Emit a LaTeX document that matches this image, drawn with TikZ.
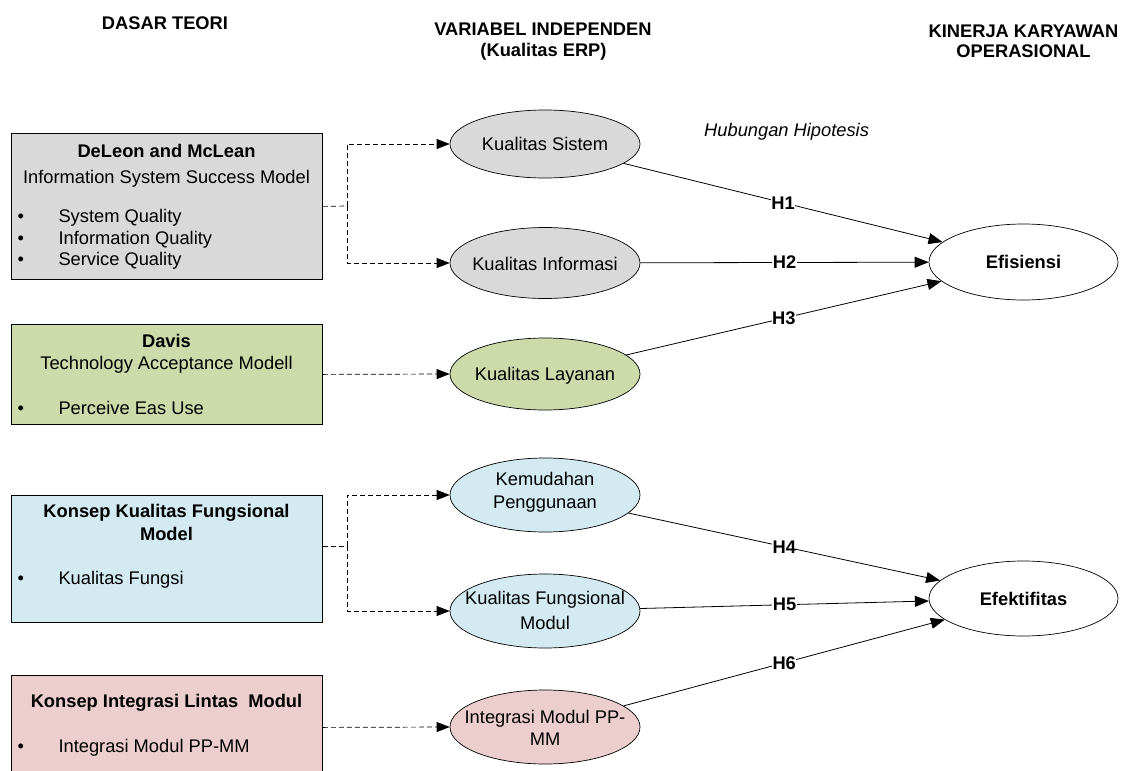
\documentclass[tikz,border=0pt]{standalone}
\usepackage{fontspec}
\setmainfont{Liberation Sans}
\usetikzlibrary{shapes.geometric,arrows.meta}
\definecolor{cgray}{HTML}{D9D9D9}
\definecolor{cgreen}{HTML}{CDDBAB}
\definecolor{cblue}{HTML}{D2EAF0}
\definecolor{cpink}{HTML}{ECCECE}
\newcommand{\myfs}{\fontsize{18.3pt}{22pt}\selectfont}
\begin{document}
\begin{tikzpicture}[x=1pt,y=-1pt,font=\myfs,
  box/.style={draw=black, line width=0.8pt, rectangle, anchor=north west, inner sep=0pt, minimum width=311pt},
  ell/.style={ellipse, draw=black, line width=0.7pt, inner sep=0pt},
  txt/.style={anchor=base, inner sep=0pt},
  ltxt/.style={anchor=base west, inner sep=0pt},
  btxt/.style={anchor=base, inner sep=0pt, font=\myfs\bfseries},
  bul/.style={anchor=base, inner sep=0pt},
  dashline/.style={line width=0.7pt, dash pattern=on 5pt off 3pt},
  dasharrow/.style={dashline, -{Triangle[length=13pt,width=10pt]}},
  hyp/.style={line width=0.8pt, -{Triangle[length=14pt,width=11pt]}},
  lab/.style={fill=white, inner xsep=0.5pt, inner ysep=1pt, font=\myfs\bfseries}
]
\useasboundingbox (0,0) rectangle (1125,771);

% headers
\node[btxt] (h1) at (165,29) {DASAR TEORI};
\node[btxt] (h2a) at (543,35) {VARIABEL INDEPENDEN};
\node[btxt] (h2b) at (543.5,56) {(Kualitas ERP)};
\node[btxt] (h3a) at (1023.5,37) {KINERJA KARYAWAN};
\node[btxt] (h3b) at (1023.5,57.5) {OPERASIONAL};
\node[ltxt, font=\myfs\itshape] (hh) at (704,136) {Hubungan Hipotesis};

% theory boxes
\node[box, fill=cgray, minimum height=146pt] (b1) at (11,133) {};
\node[btxt] (b1t1) at (166.5,157) {DeLeon and McLean};
\node[txt] (b1t2) at (166.5,183) {Information System Success Model};
\node[bul] (b1u1) at (20.8,222) {•};
\node[ltxt] (b1l1) at (58.3,222) {System Quality};
\node[bul] (b1u2) at (20.8,244) {•};
\node[ltxt] (b1l2) at (58.3,244) {Information Quality};
\node[bul] (b1u3) at (20.8,265.5) {•};
\node[ltxt] (b1l3) at (58.3,265.5) {Service Quality};

\node[box, fill=cgreen, minimum height=100pt] (b2) at (11,324) {};
\node[btxt] (b2t1) at (166.5,347.5) {Davis};
\node[txt] (b2t2) at (166.5,369) {Technology Acceptance Modell};
\node[bul] (b2u1) at (20.8,414.5) {•};
\node[ltxt] (b2l1) at (58.3,414.5) {Perceive Eas Use};

\node[box, fill=cblue, minimum height=127pt] (b3) at (11,495) {};
\node[btxt] (b3t1) at (166.5,517) {Konsep Kualitas Fungsional};
\node[btxt] (b3t2) at (166.5,540) {Model};
\node[bul] (b3u1) at (20.8,584) {•};
\node[ltxt] (b3l1) at (58.3,584) {Kualitas Fungsi};

\node[box, fill=cpink, minimum height=104pt] (b4) at (11,675) {};
\node[btxt] (b4t1) at (166.5,707) {Konsep Integrasi Lintas\ \ Modul};
\node[bul] (b4u1) at (20.8,752) {•};
\node[ltxt] (b4l1) at (58.3,752) {Integrasi Modul PP-MM};

% independent variables
\node[ell, fill=cgray, minimum width=190pt, minimum height=68pt] (e1) at (545,144) {};
\node[txt] (e1t) at (545,150) {Kualitas Sistem};
\node[ell, fill=cgray, minimum width=190pt, minimum height=71pt] (e2) at (545,263) {};
\node[txt] (e2t) at (545,270) {Kualitas Informasi};
\node[ell, fill=cgreen, minimum width=190pt, minimum height=72pt] (e3) at (545,374) {};
\node[txt] (e3t) at (545,380) {Kualitas Layanan};
\node[ell, fill=cblue, minimum width=190pt, minimum height=74pt] (e4) at (545,495) {};
\node[txt] (e4t1) at (545,485.5) {Kemudahan};
\node[txt] (e4t2) at (545,508.5) {Penggunaan};
\node[ell, fill=cblue, minimum width=190pt, minimum height=74pt] (e5) at (545,611) {};
\node[txt] (e5t1) at (545,604.5) {Kualitas Fungsional};
\node[txt] (e5t2) at (545,629) {Modul};
\node[ell, fill=cpink, minimum width=190pt, minimum height=74pt] (e6) at (545,727) {};
\node[txt] (e6t1) at (545,723) {Integrasi Modul PP-};
\node[txt] (e6t2) at (545,745) {MM};

% dependent variables
\node[ell, fill=white, minimum width=189pt, minimum height=76pt] (f1) at (1023.5,262) {};
\node[btxt] (f1t) at (1023.5,268.5) {Efisiensi};
\node[ell, fill=white, minimum width=189pt, minimum height=75pt] (f2) at (1023.5,598.5) {};
\node[btxt] (f2t) at (1023.5,605) {Efektifitas};

% dashed theory links
\coordinate (j1) at (347,206);
\draw[dashline] (b1.east) -- (j1);
\draw[dasharrow] (j1) |- (e1.west);
\draw[dasharrow] (j1) |- (e2.west);
\draw[dasharrow] (b2.east) -- (e3.west);
\coordinate (j3) at (347,546);
\draw[dashline] (b3.east |- j3) -- (j3);
\draw[dasharrow] (j3) |- (e4.west);
\draw[dasharrow] (j3) |- (e5.west);
\draw[dasharrow] (b4.east) -- (e6.west);

% hypotheses
\draw[hyp] (e1) -- node[lab] (l1) {H1} (f1);
\draw[hyp] (e2) -- node[lab] (l2) {H2} (f1);
\draw[hyp] (e3) -- node[lab] (l3) {H3} (f1);
\draw[hyp] (e4) -- node[lab] (l4) {H4} (f2);
\draw[hyp] (e5) -- node[lab] (l5) {H5} (f2);
\draw[hyp] (e6) -- node[lab] (l6) {H6} (f2);
\end{tikzpicture}
\end{document}
